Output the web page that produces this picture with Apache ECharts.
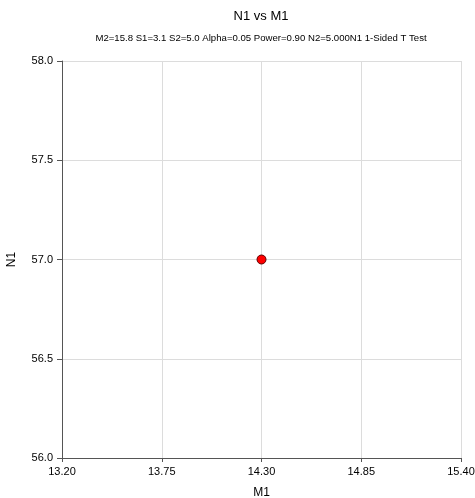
<!DOCTYPE html>
<html><head><meta charset="utf-8">
<script src="https://cdn.jsdelivr.net/npm/echarts@6/dist/echarts.min.js"></script>
<style>html,body{margin:0;padding:0;background:#fff}#c{width:475px;height:498px}</style>
</head><body><div id="c"></div>
<script>
var xTicks = [13.20, 13.75, 14.30, 14.85, 15.40];
var yTicks = [56.0, 56.5, 57.0, 57.5, 58.0];
var m1 = [14.30];
var n1 = [57.0];
var titleText = 'N1 vs M1';
var subtitleText = 'M2=15.8 S1=3.1 S2=5.0 Alpha=0.05 Power=0.90 N2=5.000N1 1-Sided T Test';

var chart = echarts.init(document.getElementById('c'), null, {renderer: 'canvas'});
var ff = 'Liberation Sans, Arial, sans-serif';
chart.setOption({
  animation: false,
  backgroundColor: '#fff',
  title: [
    {text: titleText, left: 256, textAlign: 'center', top: 5, textStyle: {fontSize: 13, fontWeight: 'normal', color: '#000', fontFamily: ff}},
    {text: subtitleText, left: 256, textAlign: 'center', top: 28, textStyle: {fontSize: 9.6, fontWeight: 'normal', color: '#000', fontFamily: ff}}
  ],
  grid: {left: 62, right: 14, top: 61, bottom: 40, containLabel: false, outerBoundsMode: 'none'},
  xAxis: {
    type: 'value', min: xTicks[0], max: xTicks[xTicks.length - 1], interval: 0.55,
    name: 'M1', nameLocation: 'middle', nameGap: 29,
    nameTextStyle: {fontSize: 12, color: '#000', fontFamily: ff},
    axisLine: {show: true, lineStyle: {color: '#555', width: 1}},
    axisTick: {show: true, length: 4, lineStyle: {color: '#555'}},
    axisLabel: {fontSize: 11, color: '#000', fontFamily: ff, margin: 8,
      formatter: function(v){ return v.toFixed(2); }},
    splitLine: {show: true, lineStyle: {color: '#dcdcdc', width: 1}}
  },
  yAxis: {
    type: 'value', min: yTicks[0], max: yTicks[yTicks.length - 1], interval: 0.5,
    name: 'N1', nameLocation: 'middle', nameGap: 44,
    nameTextStyle: {fontSize: 12, color: '#000', fontFamily: ff},
    axisLine: {show: true, lineStyle: {color: '#555', width: 1}},
    axisTick: {show: true, length: 5, lineStyle: {color: '#555'}},
    axisLabel: {fontSize: 11, color: '#000', fontFamily: ff, margin: 9,
      formatter: function(v){ return v.toFixed(1); }},
    splitLine: {show: true, lineStyle: {color: '#dcdcdc', width: 1}}
  },
  series: [{
    type: 'scatter',
    data: m1.map(function(x, i){ return [x, n1[i]]; }),
    symbol: 'circle', symbolSize: 9,
    itemStyle: {color: '#ff0000', borderColor: '#5a0000', borderWidth: 1, opacity: 1}
  }]
});
</script></body></html>
